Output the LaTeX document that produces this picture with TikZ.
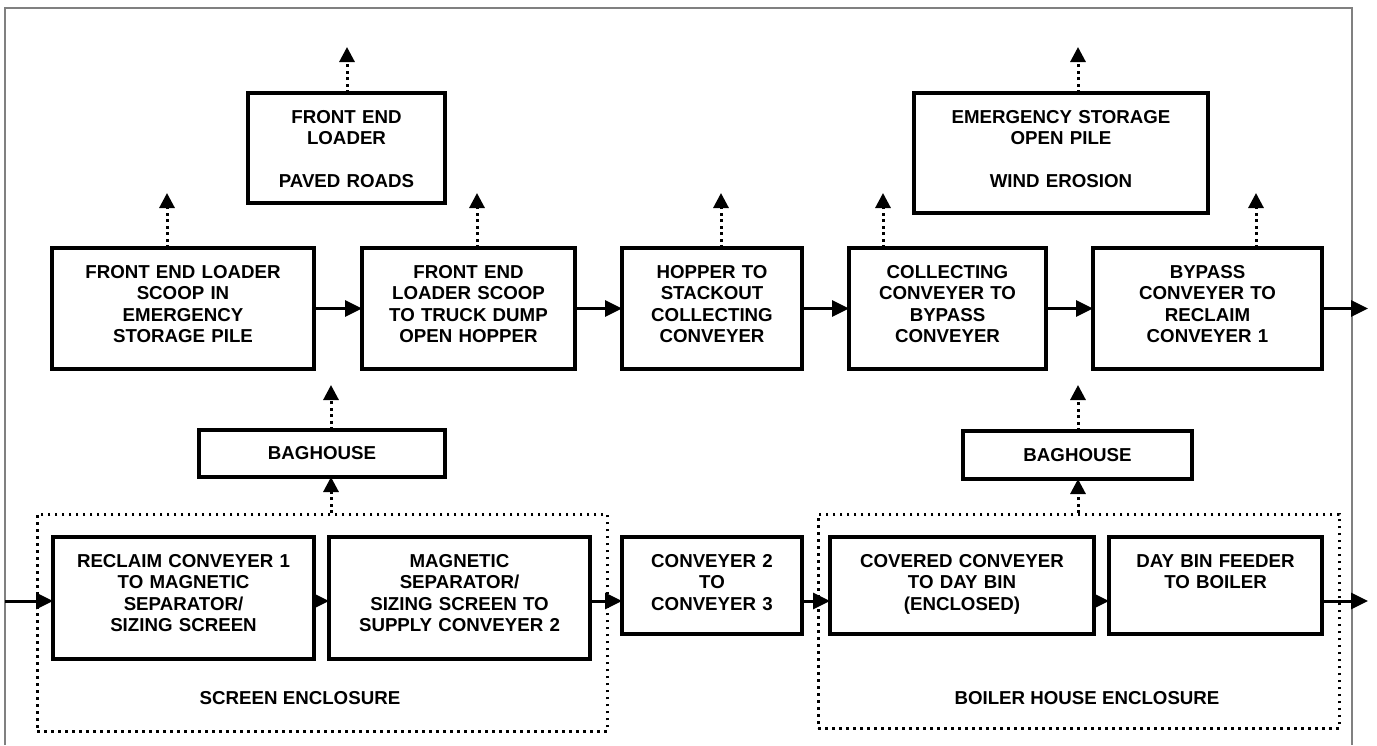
\documentclass[tikz,border=0pt]{standalone}
\usepackage{fontspec}
\setmainfont{Liberation Sans}
\usetikzlibrary{positioning,arrows.meta}

\begin{document}
\begin{tikzpicture}[x=1pt,y=-1pt,
    font=\fontsize{18.7}{21.5}\selectfont\bfseries,
    unit/.style={draw,line width=4pt,inner sep=0pt,outer sep=0pt,anchor=north west,
      align=center,text width=#1,text height=30pt,text depth=91pt},
    bag/.style={draw,line width=4pt,inner sep=0pt,outer sep=0pt,anchor=north west,
      minimum width=#1,minimum height=47pt},
    encl/.style={draw,line width=2.6pt,dash pattern=on 2.6pt off 4.4pt,inner sep=0pt,
      anchor=north west},
    flow/.style={-{Triangle[length=17pt,width=16pt]},line width=3pt},
    vent/.style={-{Triangle[length=15pt,width=15pt]},line width=3pt,
      dash pattern=on 3pt off 3.5pt}]
  \useasboundingbox (0,0) rectangle (1377,745);
  \draw[gray,line width=1.5pt] (5,745) -- (5,8) -- (1352,8) -- (1352,745);

  \node[encl,minimum width=570pt,minimum height=217pt] (scr)  at (36,513)  {};
  \node[encl,minimum width=521pt,minimum height=214pt] (boil) at (817,513) {};
  \node (scrlbl)  at (300,698)  {SCREEN ENCLOSURE};
  \node (boillbl) at (1087,698) {BOILER HOUSE ENCLOSURE};

  \node[unit=197pt,text depth=80pt] (fel) at (248,93) {FRONT END\\LOADER\\\mbox{}\\PAVED ROADS};
  \node[unit=294pt,text depth=90pt] (ems) at (914,93) {EMERGENCY STORAGE\\OPEN PILE\\\mbox{}\\WIND EROSION};

  \node[unit=262pt] (scoop)   at (52,248)   {FRONT END LOADER\\SCOOP IN\\EMERGENCY\\STORAGE PILE};
  \node[unit=213pt] (truck)   at (362,248)  {FRONT END\\LOADER SCOOP\\TO TRUCK DUMP\\OPEN HOPPER};
  \node[unit=180pt] (hopper)  at (622,248)  {HOPPER TO\\STACKOUT\\COLLECTING\\CONVEYER};
  \node[unit=197pt] (collect) at (849,248)  {COLLECTING\\CONVEYER TO\\BYPASS\\CONVEYER};
  \node[unit=229pt] (bypass)  at (1093,248) {BYPASS\\CONVEYER TO\\RECLAIM\\CONVEYER 1};

  \node[bag=246pt] (bagL) at (199,430) {BAGHOUSE};
  \node[bag=229pt,minimum height=48pt] (bagR) at (963,431) {BAGHOUSE};

  \node[unit=261pt,text depth=92pt] (reclaim) at (53,537)   {RECLAIM CONVEYER 1\\TO MAGNETIC\\SEPARATOR/\\SIZING SCREEN};
  \node[unit=261pt,text depth=92pt] (magsep)  at (329,537)  {MAGNETIC\\SEPARATOR/\\SIZING SCREEN TO\\SUPPLY CONVEYER 2};
  \node[unit=180pt,text depth=67pt] (conv)    at (622,537)  {CONVEYER 2\\TO\\CONVEYER 3};
  \node[unit=264pt,text depth=67pt] (covered) at (830,537)  {COVERED CONVEYER\\TO DAY BIN\\(ENCLOSED)};
  \node[unit=213pt,text depth=67pt] (daybin)  at (1109,537) {DAY BIN FEEDER\\TO BOILER};

  \coordinate (outT) at (1368,308.5);
  \coordinate (inB)  at (5,601);
  \coordinate (outB) at (1368,601);
  \coordinate (vScoop)   at (167,193);
  \coordinate (vTruck)   at (477,193);
  \coordinate (vHopper)  at (721,193);
  \coordinate (vCollect) at (883,193);
  \coordinate (vBypass)  at (1256,193);
  \coordinate (vFel)     at (347,47);
  \coordinate (vEms)     at (1078,47);
  \coordinate (vBagL)    at (331,385);
  \coordinate (vBagR)    at (1078,385);

  \draw[flow] (scoop) -- (truck);
  \draw[flow] (truck) -- (hopper);
  \draw[flow] (hopper) -- (collect);
  \draw[flow] (collect) -- (bypass);
  \draw[flow] (bypass) -- (outT);

  \draw[flow] (inB) -- (inB -| reclaim.west);
  \draw[flow] (inB -| reclaim.east) -- (inB -| magsep.west);
  \draw[flow] (inB -| magsep.east) -- (inB -| conv.west);
  \draw[flow] (inB -| conv.east) -- (inB -| covered.west);
  \draw[flow] (inB -| covered.east) -- (inB -| daybin.west);
  \draw[flow] (inB -| daybin.east) -- (outB);

  \draw[vent] (vScoop |- scoop.north) -- (vScoop);
  \draw[vent] (vTruck |- truck.north) -- (vTruck);
  \draw[vent] (vHopper |- hopper.north) -- (vHopper);
  \draw[vent] (vCollect |- collect.north) -- (vCollect);
  \draw[vent] (vBypass |- bypass.north) -- (vBypass);
  \draw[vent] (fel.north -| vFel) -- (vFel);
  \draw[vent] (ems.north -| vEms) -- (vEms);
  \draw[vent] (bagL.north -| vBagL) -- (vBagL);
  \draw[vent] (bagR.north -| vBagR) -- (vBagR);
  \draw[vent] (scr.north -| vBagL) -- (bagL.south -| vBagL);
  \draw[vent] (boil.north -| vBagR) -- (bagR.south -| vBagR);
\end{tikzpicture}
\end{document}
